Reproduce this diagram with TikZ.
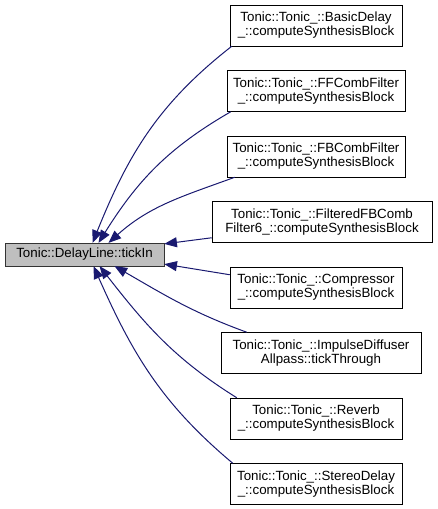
\documentclass[tikz,border=0pt]{standalone}
\usepackage{fontspec}
\setmainfont{Liberation Sans}
\usetikzlibrary{positioning}
\usetikzlibrary{calc}
\usetikzlibrary{arrows.meta}

\definecolor{edgeblue}{HTML}{191970}
\definecolor{nodegray}{HTML}{BFBFBF}

\tikzset{
    member/.style={draw=black, fill=white, align=center, font=\fontsize{10}{10.5}\selectfont, inner xsep=3pt, minimum height=30.75pt, minimum width=#1*0.75pt},
    member/.default=172,
    calls/.style={edgeblue, line width=0.75pt, -{Triangle[length=9.5pt, width=7.5pt]}}
}

\begin{document}
\begin{tikzpicture}[x=0.75pt, y=-0.75pt]
        \useasboundingbox (0,0) rectangle (437,509);

        % Left Node: the called function
        \node[member=159, fill=nodegray, draw=black!80, minimum height=17pt] at (84.5,254.5) (tick_in) {Tonic::DelayLine::tickIn};

        % Right Nodes: the callers
        \node[member] at (316,25.5) (basic_delay) {Tonic::Tonic\_::BasicDelay\\\_::computeSynthesisBlock};
        \node[member=178] at (316,91) (ff_comb) {Tonic::Tonic\_::FFCombFilter\\\_::computeSynthesisBlock};
        \node[member=178] at (316,156.5) (fb_comb) {Tonic::Tonic\_::FBCombFilter\\\_::computeSynthesisBlock};
        \node[member=220] at (322,222) (filtered_fb_comb) {Tonic::Tonic\_::FilteredFBComb\\Filter6\_::computeSynthesisBlock};
        \node[member] at (316,287.5) (compressor) {Tonic::Tonic\_::Compressor\\\_::computeSynthesisBlock};
        \node[member=200] at (321,353) (impulse_diffuser) {Tonic::Tonic\_::ImpulseDiffuser\\Allpass::tickThrough};
        \node[member] at (316,418.5) (reverb) {Tonic::Tonic\_::Reverb\\\_::computeSynthesisBlock};
        \node[member] at (316,484) (stereo_delay) {Tonic::Tonic\_::StereoDelay\\\_::computeSynthesisBlock};

        % Top Edges: into the top side
        \draw[calls] ($(basic_delay.south west)+(2,0)$) to[out=218, in=68] ($(tick_in.north)+(8,0)$);
        \draw[calls] ($(ff_comb.south west)+(4,0)$) to[out=210, in=58] ($(tick_in.north)+(14,0)$);
        \draw[calls] ($(fb_comb.south west)+(8,0)$) to[out=200, in=42] ($(tick_in.north)+(24,0)$);

        % Middle Edges: into the right side
        \draw[calls] ($(filtered_fb_comb.south west)+(0,-5)$) -- ($(tick_in.north east)+(0,1)$);
        \draw[calls] ($(compressor.north west)+(0,8)$) -- ($(tick_in.south east)+(0,-2)$);

        % Bottom Edges: into the bottom side
        \draw[calls] ($(impulse_diffuser.north west)+(26,0)$) to[out=160, in=-30] ($(tick_in.south)+(30,0)$);
        \draw[calls] ($(reverb.north west)+(7,0)$) to[out=148, in=-52] ($(tick_in.south)+(15,0)$);
        \draw[calls] ($(stereo_delay.north west)+(3,0)$) to[out=140, in=-66] ($(tick_in.south)+(9,0)$);

    \end{tikzpicture}
\end{document}
